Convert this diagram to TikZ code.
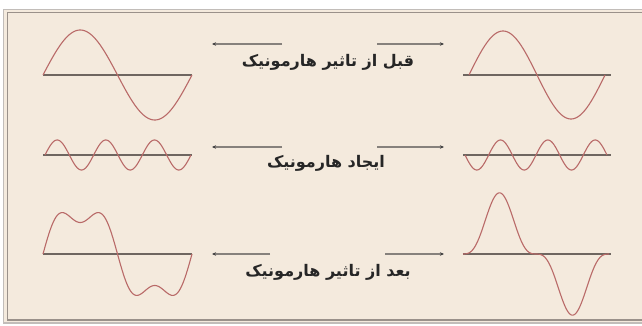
\documentclass[tikz,border=0pt]{standalone}
\usepackage{fontspec}
\usetikzlibrary{arrows.meta}
\newfontfamily\arabicfont[Script=Arabic,BoldFont={DejaVu Sans Bold}]{DejaVu Sans}
\TeXXeTstate=1
\definecolor{zamine}{HTML}{F4EADD}
\definecolor{mouj}{HTML}{B96A68}
\definecolor{mehvar}{HTML}{6E6660}
\definecolor{flesh}{HTML}{86817C}
\definecolor{ghab}{HTML}{9A918A}

\begin{document}
\begin{tikzpicture}[x=1pt,y=-1pt,
    wave/.style={mouj, line width=1.1pt, line join=round},
    axisline/.style={mehvar, line width=1.5pt},
    arr/.style={flesh, line width=1.1pt, -{Stealth[length=4pt,width=3.5pt,color=black!75]}},
    label/.style={font=\arabicfont\bfseries\fontsize{16}{18}\selectfont, inner sep=0pt, text=black!85}]
  \useasboundingbox (0,0) rectangle (642,326);

  % Frame
  \fill[white] (0,0) rectangle (642,326);
  \fill[zamine] (3,9) rectangle (646,323);
  \draw[ghab!60, line width=1.2pt] (3.5,9.5) rectangle (646,323);
  \draw[ghab, line width=1.2pt] (7.5,12.5) rectangle (643,320);

  % Labels
  \node[label] (t1) at (328,62) {\beginR قبل از تاثیر هارمونیک\endR};
  \node[label] (t2) at (326,163) {\beginR ایجاد هارمونیک\endR};
  \node[label] (t3) at (328,272) {\beginR بعد از تاثیر هارمونیک\endR};

  % Arrow ends
  \coordinate (l1s) at (282,44);  \coordinate (l1e) at (212,44);
  \coordinate (r1s) at (377,44);  \coordinate (r1e) at (444,44);
  \coordinate (l2s) at (282,147); \coordinate (l2e) at (212,147);
  \coordinate (r2s) at (377,147); \coordinate (r2e) at (444,147);
  \coordinate (l3s) at (270,254); \coordinate (l3e) at (212,254);
  \coordinate (r3s) at (385,254); \coordinate (r3e) at (444,254);

  \draw[arr] (l1s) -- (l1e);
  \draw[arr] (r1s) -- (r1e);
  \draw[arr] (l2s) -- (l2e);
  \draw[arr] (r2s) -- (r2e);
  \draw[arr] (l3s) -- (l3e);
  \draw[arr] (r3s) -- (r3e);

  % Axes
  \foreach \y in {75,155,254}{
    \draw[axisline] (43,\y) -- (192,\y);
    \draw[axisline] (463,\y) -- (611,\y);
  }

  % Row 1: fundamental
  \draw[wave] plot[domain=0:360, samples=120] ({43+149*(\x/360)},{75-45*sin(\x)});
  \draw[wave] plot[domain=0:360, samples=120] ({469+136*(\x/360)},{75-44*sin(\x)});

  % Row 2: third harmonic
  \draw[wave] plot[domain=0:1080, samples=240] ({45+146*(\x/1080)},{155-15*sin(\x)});
  \draw[wave] plot[domain=0:1080, samples=240] ({465+142*(\x/1080)},{155+15*sin(\x)});

  % Row 3: sum
  \draw[wave] plot[domain=0:360, samples=200] ({43+149*(\x/360)},{254-45*(sin(\x)+0.3*sin(3*\x))});
  \draw[wave] plot[domain=0:360, samples=200] ({463+146*(\x/360)},{254-46*(sin(\x)-0.33*sin(3*\x))});
\end{tikzpicture}
\end{document}
